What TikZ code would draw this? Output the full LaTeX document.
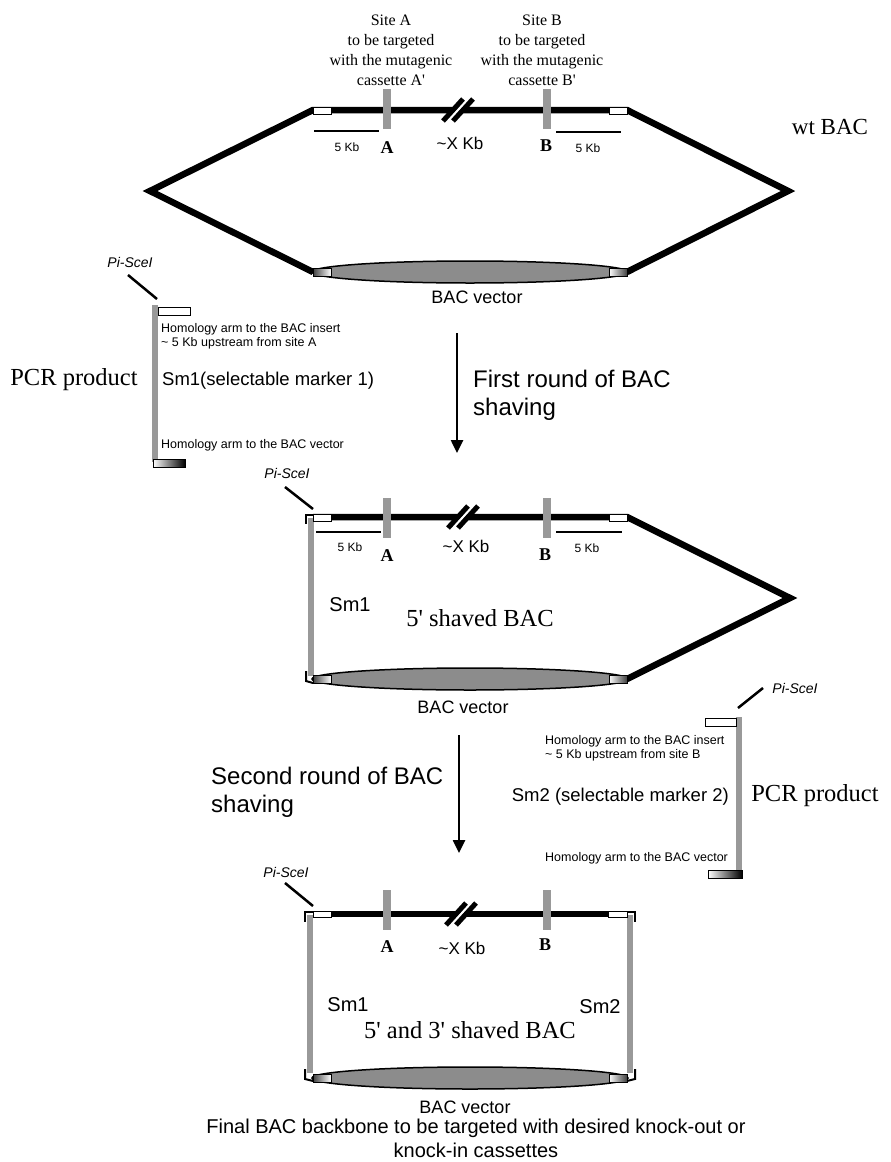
\documentclass[tikz,border=0pt]{standalone}
\usepackage{fontspec}
\setmainfont{Liberation Serif}
\setsansfont{Liberation Sans}
\usepackage{tikz}
\usetikzlibrary{positioning}
\usetikzlibrary{arrows.meta}

\tikzset{
  dna/.style={line width=6.5pt, line join=miter},
  sitebar/.style={fill=black!40},
  smbar/.style={fill=black!40},
  armbox/.style={draw, fill=white, line width=1pt},
  vecbox/.style={draw, line width=0.8pt},
  vecell/.style={draw, fill=black!45, line width=1.5pt},
  kbbar/.style={line width=2.5pt},
  cutline/.style={line width=2.5pt},
  hookline/.style={line width=2pt},
  steparrow/.style={line width=2.5pt, -{Triangle[length=13pt,width=12pt]}},
  txt/.style={inner sep=0pt},
  sitetxt/.style={txt, align=center, font=\fontsize{16}{20}\selectfont},
  sitelet/.style={txt, font=\fontsize{18}{20}\selectfont\bfseries},
  bigserif/.style={txt, font=\fontsize{24.5}{28}\selectfont},
  kbtxt/.style={txt, font=\sffamily\fontsize{12}{14}\selectfont},
  xkbtxt/.style={txt, font=\sffamily\fontsize{17}{20}\selectfont},
  vectxt/.style={txt, font=\sffamily\fontsize{18}{20}\selectfont},
  armtxt/.style={txt, align=left, font=\sffamily\fontsize{12.5}{14}\selectfont},
  smtxt/.style={txt, font=\sffamily\fontsize{18.5}{20}\selectfont},
  smlab/.style={txt, font=\sffamily\fontsize{20}{22}\selectfont},
  roundtxt/.style={txt, align=left, font=\sffamily\fontsize{24}{28}\selectfont},
  pitxt/.style={txt, font=\sffamily\itshape\fontsize{14}{16}\selectfont},
  finaltxt/.style={txt, align=center, font=\sffamily\fontsize{20}{24}\selectfont}
}

\begin{document}
\begin{tikzpicture}[x=1pt, y=-1pt]
\useasboundingbox (0,0) rectangle (891,1162);

% wt BAC
\draw[dna] (313,272) -- (150,191) -- (313,110) -- (627,110) -- (788,191) -- (627,272);
\draw[vecell] (470,272) ellipse [x radius=158, y radius=11];
\shade[vecbox, left color=black!75, right color=white] (313,268) rectangle (331,276);
\shade[vecbox, left color=white, right color=black!75] (609,268) rectangle (627,276);
\draw[armbox] (313,107) rectangle (331,114);
\draw[armbox] (609,107) rectangle (627,114);
\fill[sitebar] (383,89) rectangle (391,129);
\fill[sitebar] (543,89) rectangle (551,129);
% break
\draw[line width=3pt, white] (448,121) -- (468,99);
\draw[line width=5pt] (443,121) -- (463,99);
\draw[line width=5pt] (453,121) -- (473,99);
\draw[kbbar] (314,131) -- (379,131);
\draw[kbbar] (556,132) -- (621,132);
\node[kbtxt] (kbA0) at (347,147) {5 Kb};
\node[sitelet] (A0) at (387,148) {A};
\node[xkbtxt] (xkb0) at (460,143) {\textasciitilde X Kb};
\node[sitelet] (B0) at (546,146) {B};
\node[kbtxt] (kbB0) at (588,148) {5 Kb};
\node[vectxt] (vec0) at (477,297) {BAC vector};
\node[sitetxt] (siteA) at (391,50) {Site A\\to be targeted\\with the mutagenic\\cassette A\textquotesingle};
\node[sitetxt] (siteB) at (542,50) {Site B\\to be targeted\\with the mutagenic\\cassette B\textquotesingle};
\node[bigserif, font=\fontsize{23}{26}\selectfont] (wt) at (830,127) {wt BAC};

% first PCR product
\fill[smbar] (152,305) rectangle (158,462);
\draw[armbox] (158,307) rectangle (190,315);
\shade[vecbox, left color=white, right color=black] (153,459) rectangle (185,467);
\node[pitxt] (pi1) at (130,262) {Pi-SceI};
\coordinate (pi1a) at (128,275);
\coordinate (pi1b) at (157,299);
\draw[cutline] (pi1a) -- (pi1b);
\node[armtxt, anchor=west] (hom1) at (161,336) {Homology arm to the BAC insert\\\textasciitilde{} 5 Kb upstream from site A};
\node[smtxt, anchor=west] (sm1) at (162,381) {Sm1(selectable marker 1)};
\node[armtxt, anchor=west] (homv1) at (161,445) {Homology arm to the BAC vector};
\node[bigserif] (pcr1) at (74,380) {PCR product};

% first round
\coordinate (ar1a) at (457,333);
\coordinate (ar1b) at (457,453);
\draw[steparrow] (ar1a) -- (ar1b);
\node[roundtxt, anchor=west] (round1) at (473,395) {First round of BAC\\shaving};

% 5' shaved BAC
\draw[dna] (313,517) -- (627,517) -- (790,598) -- (627,679);
\fill[smbar] (308,518) rectangle (314,676);
\draw[hookline] (313,515) -- (306,515) -- (306,524);
\draw[hookline] (306,671) -- (306,681) -- (313,683);
\draw[vecell] (470,679) ellipse [x radius=158, y radius=11];
\shade[vecbox, left color=black!75, right color=white] (313,675) rectangle (331,683);
\shade[vecbox, left color=white, right color=black!75] (609,675) rectangle (627,683);
\draw[armbox] (313,514) rectangle (331,521);
\draw[armbox] (609,514) rectangle (627,521);
\fill[sitebar] (383,498) rectangle (391,538);
\fill[sitebar] (543,498) rectangle (551,538);
% break
\draw[line width=3pt, white] (453,528) -- (473,506);
\draw[line width=5pt] (448,528) -- (468,506);
\draw[line width=5pt] (458,528) -- (478,506);
\draw[kbbar] (316,532) -- (381,532);
\draw[kbbar] (556,532) -- (622,532);
\node[kbtxt] (kbA1) at (350,547) {5 Kb};
\node[sitelet] (A1) at (387,556) {A};
\node[xkbtxt] (xkb1) at (466,546) {\textasciitilde X Kb};
\node[sitelet] (B1) at (545,555) {B};
\node[kbtxt] (kbB1) at (587,548) {5 Kb};
\node[vectxt] (vec1) at (463,707) {BAC vector};
\node[smlab] (sm1lab) at (350,605) {Sm1};
\node[bigserif] (shaved5) at (480,618) {5\textquotesingle{} shaved BAC};
\node[pitxt] (pi2) at (287,473) {Pi-SceI};
\coordinate (pi2a) at (285,487);
\coordinate (pi2b) at (313,509);
\draw[cutline] (pi2a) -- (pi2b);

% second PCR product
\fill[smbar] (736,717) rectangle (742,877);
\draw[armbox] (705,718) rectangle (736,726);
\shade[vecbox, left color=white, right color=black] (708,870) rectangle (742,878);
\node[pitxt] (pi3) at (795,688) {Pi-SceI};
\coordinate (pi3a) at (738,708);
\coordinate (pi3b) at (763,688);
\draw[cutline] (pi3a) -- (pi3b);
\node[armtxt, anchor=west] (hom2) at (545,748) {Homology arm to the BAC insert\\\textasciitilde{} 5 Kb upstream from site B};
\node[smtxt, anchor=east] (sm2) at (729,797) {Sm2 (selectable marker 2)};
\node[armtxt, anchor=west] (homv2) at (545,858) {Homology arm to the BAC vector};
\node[bigserif] (pcr2) at (815,796) {PCR product};

% second round
\coordinate (ar2a) at (459,735);
\coordinate (ar2b) at (459,853);
\draw[steparrow] (ar2a) -- (ar2b);
\node[roundtxt, anchor=west] (round2) at (211,792) {Second round of BAC\\shaving};

% 5' and 3' shaved BAC
\draw[dna] (313,914) -- (627,914);
\fill[smbar] (307,915) rectangle (313,1073);
\fill[smbar] (627,915) rectangle (633,1073);
\draw[hookline] (313,912) -- (305,912) -- (305,922);
\draw[hookline] (627,912) -- (635,912) -- (635,922);
\draw[hookline] (305,1069) -- (305,1079) -- (313,1081);
\draw[hookline] (635,1069) -- (635,1079) -- (627,1081);
\draw[vecell] (470,1078) ellipse [x radius=158, y radius=11];
\shade[vecbox, left color=black!75, right color=white] (313,1074) rectangle (331,1082);
\shade[vecbox, left color=white, right color=black!75] (609,1074) rectangle (627,1082);
\draw[armbox] (313,911) rectangle (331,917);
\draw[armbox] (608,911) rectangle (627,917);
\fill[sitebar] (383,890) rectangle (391,930);
\fill[sitebar] (543,890) rectangle (551,930);
% break
\draw[line width=3pt, white] (451,925) -- (471,903);
\draw[line width=5pt] (446,925) -- (466,903);
\draw[line width=5pt] (456,925) -- (476,903);
\node[sitelet] (A2) at (387,947) {A};
\node[xkbtxt] (xkb2) at (462,948) {\textasciitilde X Kb};
\node[sitelet] (B2) at (545,945) {B};
\node[pitxt] (pi4) at (286,872) {Pi-SceI};
\coordinate (pi4a) at (285,883);
\coordinate (pi4b) at (313,906);
\draw[cutline] (pi4a) -- (pi4b);
\node[smlab] (sm1fin) at (348,1005) {Sm1};
\node[smlab] (sm2fin) at (600,1007) {Sm2};
\node[bigserif] (shaved53) at (470,1030) {5\textquotesingle{} and 3\textquotesingle{} shaved BAC};
\node[vectxt] (vec2) at (465,1107) {BAC vector};
\node[finaltxt] (final) at (476,1138) {Final BAC backbone to be targeted with desired knock-out or\\knock-in cassettes};
\end{tikzpicture}
\end{document}
